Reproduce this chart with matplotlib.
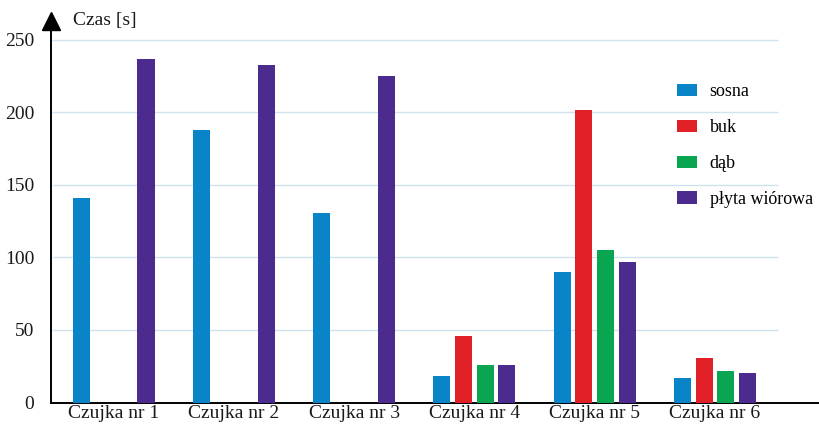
import numpy as np
import matplotlib.pyplot as plt
from matplotlib.patches import Patch

# ---------------------------------------------------------------------------
# Data
# ---------------------------------------------------------------------------
categories = ["Czujka nr 1", "Czujka nr 2", "Czujka nr 3",
              "Czujka nr 4", "Czujka nr 5", "Czujka nr 6"]
series_names = ["sosna", "buk", "dąb", "płyta wiórowa"]

sosna = [141, 188, 131, 18, 90, 17]
buk = [0, 0, 0, 46, 202, 31]
dab = [0, 0, 0, 26, 105, 22]
plyta = [237, 233, 225, 26, 97, 20]

colors = ["#0a84c8", "#e11f26", "#0aa550", "#4b2b8e"]
y_ticks = [0, 50, 100, 150, 200, 250]

plt.rcParams["font.family"] = ["Liberation Serif", "DejaVu Serif"]

fig = plt.figure(figsize=(8.19, 4.24), dpi=100)
W, H = 819, 424
ax = fig.add_axes([51 / W, 21.5 / H, (819 - 51) / W, (403 - 21.5) / H])

x = np.arange(len(categories))
slot = 0.18
width = 0.142
values = [sosna, buk, dab, plyta]
for k, (vals, col) in enumerate(zip(values, colors)):
    ax.bar(x + (k - 1.5) * slot, vals, width, color=col, zorder=3)

ax.set_xlim(-0.52, 5.865)
ax.set_ylim(0, 263.1)

# light gridlines
for yv in y_ticks[1:]:
    ax.hlines(yv, -0.51, 5.52, color="#cfe3ee", linewidth=1.0, zorder=1)

ax.set_yticks(y_ticks)
ax.set_xticks(x)
ax.set_xticklabels(categories)
ax.tick_params(axis="both", length=0, labelsize=14, colors="#1a1a1a")
ax.tick_params(axis="y", pad=12)
ax.tick_params(axis="x", pad=2)

for s in ["top", "right"]:
    ax.spines[s].set_visible(False)
ax.spines["left"].set_linewidth(1.4)
ax.spines["bottom"].set_linewidth(1.4)

# y axis arrow and title
ax.plot(0, 1, marker="^", markersize=13, color="black",
        transform=ax.transAxes, clip_on=False)
ax.text(0.028, 1.0, "Czas [s]", transform=ax.transAxes, fontsize=14,
        ha="left", va="center", color="#1a1a1a")

handles = [Patch(facecolor=c, edgecolor="none") for c in colors]
fig.legend(handles, series_names, loc="upper left",
           bbox_to_anchor=(670 / W, 1 - 76 / H), frameon=False,
           fontsize=13, handlelength=1.1, handleheight=0.7,
           handletextpad=0.7, labelspacing=1.05, borderaxespad=0)

fig.savefig("out.png", dpi=100)
